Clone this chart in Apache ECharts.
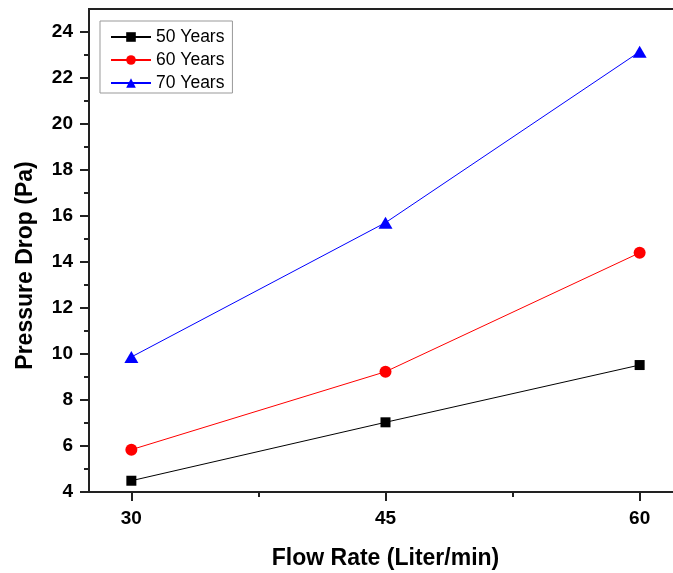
<!DOCTYPE html>
<html>
<head>
<meta charset="utf-8">
<script src="https://cdn.jsdelivr.net/npm/echarts@6/dist/echarts.min.js"></script>
<style>
  html, body { margin: 0; padding: 0; background: #fff; }
  #chart { width: 673px; height: 573px; }
</style>
</head>
<body>
<div id="chart"></div>
<script>
// values
var seriesNames = ["50 Years", "60 Years", "70 Years"];
var flowRates = [30, 45, 60];
var years50 = [4.49, 7.03, 9.52];
var years60 = [5.84, 9.23, 14.4];
var years70 = [9.87, 15.71, 23.14];
var xMajorTicks = [30, 45, 60];
var xMinorTicks = [37.5, 52.5];
var yMajorTicks = [4, 6, 8, 10, 12, 14, 16, 18, 20, 22, 24];
var yMinorTicks = [5, 7, 9, 11, 13, 15, 17, 19, 21, 23];

var font = "Liberation Sans, Arial, sans-serif";

function pairs(ys) {
  return flowRates.map(function (x, i) { return [x, ys[i]]; });
}

var chart = echarts.init(document.getElementById("chart"));

chart.setOption({
  animation: false,
  backgroundColor: "#fff",
  textStyle: { fontFamily: font },
  grid: {
    show: true,
    outerBoundsMode: "none",
    containLabel: false,
    left: 89,
    top: 9,
    width: 593,
    height: 483,
    borderColor: "#222",
    borderWidth: 2,
    backgroundColor: "transparent"
  },
  legend: {
    orient: "vertical",
    left: 100,
    top: 21,
    padding: [7, 8, 1, 10],
    itemWidth: 40,
    itemHeight: 12,
    itemGap: 5,
    borderColor: "#999",
    borderWidth: 1,
    data: seriesNames,
    textStyle: { fontFamily: font, fontSize: 17.5, color: "#000", lineHeight: 14 }
  },
  xAxis: [
    {
      type: "value",
      min: 27.5,
      max: 62.5,
      splitLine: { show: false },
      axisLine: { lineStyle: { color: "#222", width: 2 } },
      axisTick: { inside: false, length: 9, customValues: xMajorTicks, lineStyle: { color: "#222", width: 2 } },
      axisLabel: { customValues: xMajorTicks, margin: 17, fontSize: 19, fontWeight: "bold", color: "#000", fontFamily: font },
      name: "Flow Rate (Liter/min)",
      nameLocation: "middle",
      nameGap: 55,
      nameTextStyle: { fontSize: 23, fontWeight: "bold", color: "#000", fontFamily: font }
    },
    {
      type: "value",
      position: "bottom",
      min: 27.5,
      max: 62.5,
      splitLine: { show: false },
      axisLine: { show: false },
      axisTick: { inside: false, length: 5, customValues: xMinorTicks, lineStyle: { color: "#222", width: 2 } },
      axisLabel: { show: false }
    }
  ],
  yAxis: [
    {
      type: "value",
      min: 4,
      max: 25,
      interval: 2,
      splitLine: { show: false },
      axisLine: { show: true, lineStyle: { color: "#222", width: 2 } },
      axisTick: { show: true, inside: false, length: 9, customValues: yMajorTicks, lineStyle: { color: "#222", width: 2 } },
      axisLabel: { customValues: yMajorTicks, margin: 16, fontSize: 19, fontWeight: "bold", color: "#000", fontFamily: font },
      name: "Pressure Drop (Pa)",
      nameLocation: "middle",
      nameGap: 52,
      nameTextStyle: { fontSize: 23, fontWeight: "bold", color: "#000", fontFamily: font, padding: [0, 30, 0, 0] }
    },
    {
      type: "value",
      position: "left",
      min: 4,
      max: 25,
      splitLine: { show: false },
      axisLine: { show: false },
      axisTick: { show: true, inside: false, length: 5, customValues: yMinorTicks, lineStyle: { color: "#222", width: 2 } },
      axisLabel: { show: false }
    }
  ],
  series: [
    {
      name: seriesNames[0],
      type: "line",
      data: pairs(years50),
      symbol: "rect",
      symbolSize: 10,
      color: "#000",
      lineStyle: { color: "#000", width: 1 },
      itemStyle: { color: "#000" }
    },
    {
      name: seriesNames[1],
      type: "line",
      data: pairs(years60),
      symbol: "circle",
      symbolSize: 12,
      color: "#ff0000",
      lineStyle: { color: "#ff0000", width: 1 },
      itemStyle: { color: "#ff0000" }
    },
    {
      name: seriesNames[2],
      type: "line",
      data: pairs(years70),
      symbol: "triangle",
      symbolSize: [14, 12],
      color: "#0000ff",
      lineStyle: { color: "#0000ff", width: 1 },
      itemStyle: { color: "#0000ff" }
    }
  ]
});
</script>
</body>
</html>
